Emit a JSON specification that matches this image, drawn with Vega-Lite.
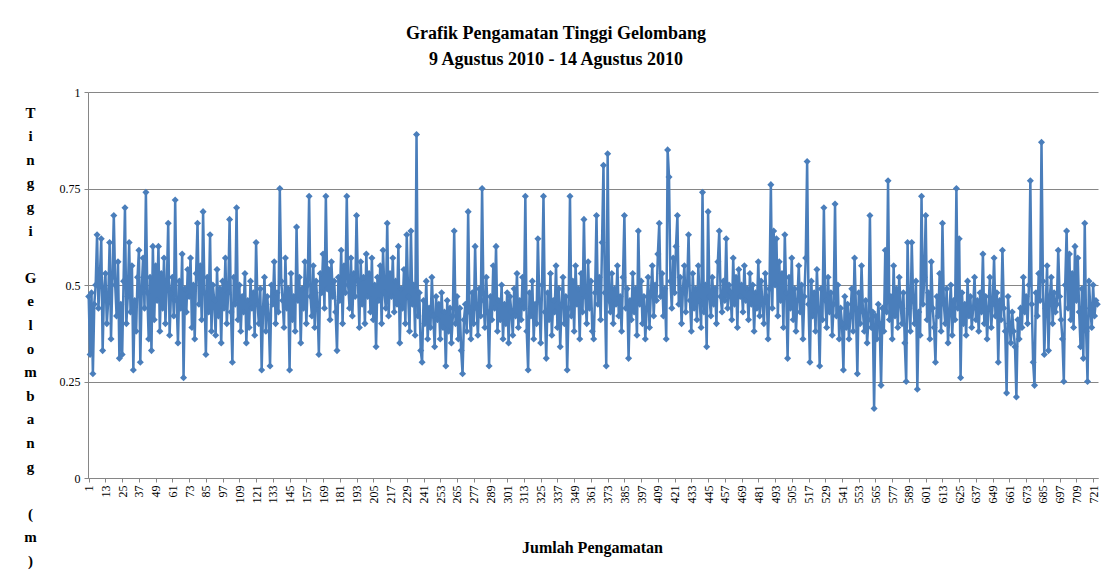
{
"$schema":"https://vega.github.io/schema/vega-lite/v6.json",
"autosize":"none",
"width":1010,"height":386,
"padding":{"left":88,"top":92,"right":5,"bottom":98},
"background":"white",
"title":{"text":["Grafik Pengamatan Tinggi Gelombang","9 Agustus 2010 - 14 Agustus 2010"],"font":"Liberation Serif","fontSize":18,"fontWeight":"bold","color":"#000000","anchor":"middle","dx":-37,"offset":17,"lineHeight":26},
"config":{"view":{"stroke":null},"axis":{"labelFont":"Liberation Serif","titleFont":"Liberation Serif","labelColor":"#000000","titleColor":"#000000"}},
"data":{"values":[
{"n":1,"h":0.47},{"n":2,"h":0.32},{"n":3,"h":0.48},{"n":4,"h":0.27},{"n":5,"h":0.45},{"n":6,"h":0.50},{"n":7,"h":0.63},{"n":8,"h":0.44},{"n":9,"h":0.52},{"n":10,"h":0.62},
{"n":11,"h":0.33},{"n":12,"h":0.49},{"n":13,"h":0.53},{"n":14,"h":0.40},{"n":15,"h":0.46},{"n":16,"h":0.61},{"n":17,"h":0.36},{"n":18,"h":0.52},{"n":19,"h":0.68},{"n":20,"h":0.50},
{"n":21,"h":0.42},{"n":22,"h":0.56},{"n":23,"h":0.31},{"n":24,"h":0.45},{"n":25,"h":0.32},{"n":26,"h":0.51},{"n":27,"h":0.70},{"n":28,"h":0.40},{"n":29,"h":0.47},{"n":30,"h":0.61},
{"n":31,"h":0.43},{"n":32,"h":0.55},{"n":33,"h":0.28},{"n":34,"h":0.46},{"n":35,"h":0.38},{"n":36,"h":0.52},{"n":37,"h":0.59},{"n":38,"h":0.30},{"n":39,"h":0.49},{"n":40,"h":0.57},
{"n":41,"h":0.44},{"n":42,"h":0.74},{"n":43,"h":0.48},{"n":44,"h":0.36},{"n":45,"h":0.52},{"n":46,"h":0.33},{"n":47,"h":0.60},{"n":48,"h":0.41},{"n":49,"h":0.55},{"n":50,"h":0.46},
{"n":51,"h":0.60},{"n":52,"h":0.38},{"n":53,"h":0.53},{"n":54,"h":0.44},{"n":55,"h":0.57},{"n":56,"h":0.40},{"n":57,"h":0.50},{"n":58,"h":0.66},{"n":59,"h":0.37},{"n":60,"h":0.48},
{"n":61,"h":0.52},{"n":62,"h":0.42},{"n":63,"h":0.72},{"n":64,"h":0.46},{"n":65,"h":0.35},{"n":66,"h":0.51},{"n":67,"h":0.44},{"n":68,"h":0.58},{"n":69,"h":0.26},{"n":70,"h":0.49},
{"n":71,"h":0.43},{"n":72,"h":0.54},{"n":73,"h":0.47},{"n":74,"h":0.57},{"n":75,"h":0.39},{"n":76,"h":0.50},{"n":77,"h":0.36},{"n":78,"h":0.53},{"n":79,"h":0.66},{"n":80,"h":0.45},
{"n":81,"h":0.55},{"n":82,"h":0.41},{"n":83,"h":0.69},{"n":84,"h":0.48},{"n":85,"h":0.32},{"n":86,"h":0.52},{"n":87,"h":0.43},{"n":88,"h":0.63},{"n":89,"h":0.38},{"n":90,"h":0.50},
{"n":91,"h":0.46},{"n":92,"h":0.37},{"n":93,"h":0.54},{"n":94,"h":0.42},{"n":95,"h":0.49},{"n":96,"h":0.35},{"n":97,"h":0.51},{"n":98,"h":0.44},{"n":99,"h":0.57},{"n":100,"h":0.40},
{"n":101,"h":0.48},{"n":102,"h":0.67},{"n":103,"h":0.43},{"n":104,"h":0.30},{"n":105,"h":0.52},{"n":106,"h":0.45},{"n":107,"h":0.70},{"n":108,"h":0.41},{"n":109,"h":0.50},{"n":110,"h":0.38},
{"n":111,"h":0.47},{"n":112,"h":0.43},{"n":113,"h":0.53},{"n":114,"h":0.35},{"n":115,"h":0.46},{"n":116,"h":0.39},{"n":117,"h":0.51},{"n":118,"h":0.44},{"n":119,"h":0.48},{"n":120,"h":0.37},
{"n":121,"h":0.61},{"n":122,"h":0.45},{"n":123,"h":0.40},{"n":124,"h":0.49},{"n":125,"h":0.28},{"n":126,"h":0.44},{"n":127,"h":0.52},{"n":128,"h":0.38},{"n":129,"h":0.47},{"n":130,"h":0.42},
{"n":131,"h":0.29},{"n":132,"h":0.50},{"n":133,"h":0.45},{"n":134,"h":0.56},{"n":135,"h":0.40},{"n":136,"h":0.48},{"n":137,"h":0.43},{"n":138,"h":0.75},{"n":139,"h":0.51},{"n":140,"h":0.46},
{"n":141,"h":0.39},{"n":142,"h":0.57},{"n":143,"h":0.44},{"n":144,"h":0.49},{"n":145,"h":0.28},{"n":146,"h":0.53},{"n":147,"h":0.41},{"n":148,"h":0.47},{"n":149,"h":0.38},{"n":150,"h":0.65},
{"n":151,"h":0.46},{"n":152,"h":0.52},{"n":153,"h":0.35},{"n":154,"h":0.49},{"n":155,"h":0.44},{"n":156,"h":0.56},{"n":157,"h":0.40},{"n":158,"h":0.50},{"n":159,"h":0.73},{"n":160,"h":0.47},
{"n":161,"h":0.42},{"n":162,"h":0.55},{"n":163,"h":0.39},{"n":164,"h":0.51},{"n":165,"h":0.45},{"n":166,"h":0.32},{"n":167,"h":0.53},{"n":168,"h":0.48},{"n":169,"h":0.58},{"n":170,"h":0.44},
{"n":171,"h":0.73},{"n":172,"h":0.49},{"n":173,"h":0.54},{"n":174,"h":0.41},{"n":175,"h":0.56},{"n":176,"h":0.47},{"n":177,"h":0.51},{"n":178,"h":0.43},{"n":179,"h":0.33},{"n":180,"h":0.52},
{"n":181,"h":0.46},{"n":182,"h":0.59},{"n":183,"h":0.40},{"n":184,"h":0.55},{"n":185,"h":0.48},{"n":186,"h":0.73},{"n":187,"h":0.50},{"n":188,"h":0.44},{"n":189,"h":0.57},{"n":190,"h":0.42},
{"n":191,"h":0.53},{"n":192,"h":0.47},{"n":193,"h":0.68},{"n":194,"h":0.51},{"n":195,"h":0.39},{"n":196,"h":0.56},{"n":197,"h":0.45},{"n":198,"h":0.52},{"n":199,"h":0.40},{"n":200,"h":0.58},
{"n":201,"h":0.47},{"n":202,"h":0.53},{"n":203,"h":0.43},{"n":204,"h":0.57},{"n":205,"h":0.41},{"n":206,"h":0.50},{"n":207,"h":0.34},{"n":208,"h":0.52},{"n":209,"h":0.46},{"n":210,"h":0.55},
{"n":211,"h":0.40},{"n":212,"h":0.59},{"n":213,"h":0.48},{"n":214,"h":0.44},{"n":215,"h":0.66},{"n":216,"h":0.42},{"n":217,"h":0.53},{"n":218,"h":0.47},{"n":219,"h":0.57},{"n":220,"h":0.43},
{"n":221,"h":0.51},{"n":222,"h":0.45},{"n":223,"h":0.60},{"n":224,"h":0.35},{"n":225,"h":0.49},{"n":226,"h":0.44},{"n":227,"h":0.54},{"n":228,"h":0.40},{"n":229,"h":0.63},{"n":230,"h":0.47},
{"n":231,"h":0.38},{"n":232,"h":0.64},{"n":233,"h":0.45},{"n":234,"h":0.50},{"n":235,"h":0.37},{"n":236,"h":0.89},{"n":237,"h":0.42},{"n":238,"h":0.48},{"n":239,"h":0.33},{"n":240,"h":0.30},
{"n":241,"h":0.46},{"n":242,"h":0.40},{"n":243,"h":0.51},{"n":244,"h":0.36},{"n":245,"h":0.44},{"n":246,"h":0.39},{"n":247,"h":0.52},{"n":248,"h":0.42},{"n":249,"h":0.34},{"n":250,"h":0.47},
{"n":251,"h":0.41},{"n":252,"h":0.45},{"n":253,"h":0.36},{"n":254,"h":0.48},{"n":255,"h":0.39},{"n":256,"h":0.43},{"n":257,"h":0.29},{"n":258,"h":0.46},{"n":259,"h":0.38},{"n":260,"h":0.44},
{"n":261,"h":0.35},{"n":262,"h":0.42},{"n":263,"h":0.64},{"n":264,"h":0.40},{"n":265,"h":0.47},{"n":266,"h":0.36},{"n":267,"h":0.44},{"n":268,"h":0.33},{"n":269,"h":0.27},{"n":270,"h":0.41},
{"n":271,"h":0.45},{"n":272,"h":0.38},{"n":273,"h":0.69},{"n":274,"h":0.43},{"n":275,"h":0.36},{"n":276,"h":0.48},{"n":277,"h":0.40},{"n":278,"h":0.60},{"n":279,"h":0.44},{"n":280,"h":0.37},
{"n":281,"h":0.49},{"n":282,"h":0.42},{"n":283,"h":0.75},{"n":284,"h":0.46},{"n":285,"h":0.39},{"n":286,"h":0.52},{"n":287,"h":0.43},{"n":288,"h":0.29},{"n":289,"h":0.47},{"n":290,"h":0.41},
{"n":291,"h":0.55},{"n":292,"h":0.44},{"n":293,"h":0.60},{"n":294,"h":0.38},{"n":295,"h":0.46},{"n":296,"h":0.41},{"n":297,"h":0.50},{"n":298,"h":0.36},{"n":299,"h":0.45},{"n":300,"h":0.40},
{"n":301,"h":0.48},{"n":302,"h":0.35},{"n":303,"h":0.47},{"n":304,"h":0.43},{"n":305,"h":0.37},{"n":306,"h":0.49},{"n":307,"h":0.42},{"n":308,"h":0.53},{"n":309,"h":0.39},{"n":310,"h":0.46},
{"n":311,"h":0.41},{"n":312,"h":0.52},{"n":313,"h":0.44},{"n":314,"h":0.73},{"n":315,"h":0.38},{"n":316,"h":0.28},{"n":317,"h":0.48},{"n":318,"h":0.42},{"n":319,"h":0.51},{"n":320,"h":0.36},
{"n":321,"h":0.45},{"n":322,"h":0.40},{"n":323,"h":0.62},{"n":324,"h":0.46},{"n":325,"h":0.35},{"n":326,"h":0.50},{"n":327,"h":0.73},{"n":328,"h":0.43},{"n":329,"h":0.31},{"n":330,"h":0.48},
{"n":331,"h":0.41},{"n":332,"h":0.53},{"n":333,"h":0.37},{"n":334,"h":0.46},{"n":335,"h":0.43},{"n":336,"h":0.55},{"n":337,"h":0.39},{"n":338,"h":0.49},{"n":339,"h":0.34},{"n":340,"h":0.45},
{"n":341,"h":0.52},{"n":342,"h":0.40},{"n":343,"h":0.47},{"n":344,"h":0.28},{"n":345,"h":0.44},{"n":346,"h":0.73},{"n":347,"h":0.42},{"n":348,"h":0.51},{"n":349,"h":0.38},{"n":350,"h":0.55},
{"n":351,"h":0.45},{"n":352,"h":0.49},{"n":353,"h":0.36},{"n":354,"h":0.53},{"n":355,"h":0.43},{"n":356,"h":0.67},{"n":357,"h":0.47},{"n":358,"h":0.40},{"n":359,"h":0.56},{"n":360,"h":0.44},
{"n":361,"h":0.51},{"n":362,"h":0.38},{"n":363,"h":0.36},{"n":364,"h":0.48},{"n":365,"h":0.68},{"n":366,"h":0.45},{"n":367,"h":0.52},{"n":368,"h":0.41},{"n":369,"h":0.61},{"n":370,"h":0.81},
{"n":371,"h":0.48},{"n":372,"h":0.29},{"n":373,"h":0.84},{"n":374,"h":0.46},{"n":375,"h":0.43},{"n":376,"h":0.53},{"n":377,"h":0.40},{"n":378,"h":0.49},{"n":379,"h":0.45},{"n":380,"h":0.55},
{"n":381,"h":0.42},{"n":382,"h":0.47},{"n":383,"h":0.38},{"n":384,"h":0.52},{"n":385,"h":0.68},{"n":386,"h":0.44},{"n":387,"h":0.49},{"n":388,"h":0.31},{"n":389,"h":0.46},{"n":390,"h":0.41},
{"n":391,"h":0.53},{"n":392,"h":0.43},{"n":393,"h":0.49},{"n":394,"h":0.37},{"n":395,"h":0.64},{"n":396,"h":0.45},{"n":397,"h":0.51},{"n":398,"h":0.40},{"n":399,"h":0.47},{"n":400,"h":0.36},
{"n":401,"h":0.44},{"n":402,"h":0.52},{"n":403,"h":0.39},{"n":404,"h":0.48},{"n":405,"h":0.55},{"n":406,"h":0.42},{"n":407,"h":0.50},{"n":408,"h":0.46},{"n":409,"h":0.58},{"n":410,"h":0.66},
{"n":411,"h":0.47},{"n":412,"h":0.53},{"n":413,"h":0.42},{"n":414,"h":0.49},{"n":415,"h":0.36},{"n":416,"h":0.85},{"n":417,"h":0.78},{"n":418,"h":0.51},{"n":419,"h":0.44},{"n":420,"h":0.57},
{"n":421,"h":0.48},{"n":422,"h":0.60},{"n":423,"h":0.68},{"n":424,"h":0.45},{"n":425,"h":0.52},{"n":426,"h":0.40},{"n":427,"h":0.49},{"n":428,"h":0.55},{"n":429,"h":0.43},{"n":430,"h":0.50},
{"n":431,"h":0.63},{"n":432,"h":0.46},{"n":433,"h":0.38},{"n":434,"h":0.53},{"n":435,"h":0.44},{"n":436,"h":0.49},{"n":437,"h":0.41},{"n":438,"h":0.55},{"n":439,"h":0.46},{"n":440,"h":0.39},
{"n":441,"h":0.74},{"n":442,"h":0.43},{"n":443,"h":0.50},{"n":444,"h":0.34},{"n":445,"h":0.69},{"n":446,"h":0.47},{"n":447,"h":0.42},{"n":448,"h":0.52},{"n":449,"h":0.45},{"n":450,"h":0.49},
{"n":451,"h":0.40},{"n":452,"h":0.56},{"n":453,"h":0.64},{"n":454,"h":0.47},{"n":455,"h":0.43},{"n":456,"h":0.51},{"n":457,"h":0.46},{"n":458,"h":0.62},{"n":459,"h":0.44},{"n":460,"h":0.50},
{"n":461,"h":0.48},{"n":462,"h":0.41},{"n":463,"h":0.57},{"n":464,"h":0.45},{"n":465,"h":0.52},{"n":466,"h":0.39},{"n":467,"h":0.54},{"n":468,"h":0.47},{"n":469,"h":0.50},{"n":470,"h":0.43},
{"n":471,"h":0.55},{"n":472,"h":0.46},{"n":473,"h":0.49},{"n":474,"h":0.41},{"n":475,"h":0.53},{"n":476,"h":0.45},{"n":477,"h":0.50},{"n":478,"h":0.38},{"n":479,"h":0.48},{"n":480,"h":0.44},
{"n":481,"h":0.56},{"n":482,"h":0.42},{"n":483,"h":0.51},{"n":484,"h":0.45},{"n":485,"h":0.40},{"n":486,"h":0.53},{"n":487,"h":0.47},{"n":488,"h":0.36},{"n":489,"h":0.49},{"n":490,"h":0.76},
{"n":491,"h":0.44},{"n":492,"h":0.64},{"n":493,"h":0.50},{"n":494,"h":0.62},{"n":495,"h":0.42},{"n":496,"h":0.56},{"n":497,"h":0.46},{"n":498,"h":0.53},{"n":499,"h":0.39},{"n":500,"h":0.63},
{"n":501,"h":0.48},{"n":502,"h":0.31},{"n":503,"h":0.52},{"n":504,"h":0.44},{"n":505,"h":0.57},{"n":506,"h":0.41},{"n":507,"h":0.49},{"n":508,"h":0.38},{"n":509,"h":0.46},{"n":510,"h":0.55},
{"n":511,"h":0.43},{"n":512,"h":0.50},{"n":513,"h":0.36},{"n":514,"h":0.47},{"n":515,"h":0.57},{"n":516,"h":0.82},{"n":517,"h":0.45},{"n":518,"h":0.30},{"n":519,"h":0.51},{"n":520,"h":0.42},
{"n":521,"h":0.48},{"n":522,"h":0.38},{"n":523,"h":0.54},{"n":524,"h":0.44},{"n":525,"h":0.29},{"n":526,"h":0.49},{"n":527,"h":0.41},{"n":528,"h":0.70},{"n":529,"h":0.46},{"n":530,"h":0.39},
{"n":531,"h":0.52},{"n":532,"h":0.43},{"n":533,"h":0.48},{"n":534,"h":0.37},{"n":535,"h":0.45},{"n":536,"h":0.71},{"n":537,"h":0.42},{"n":538,"h":0.50},{"n":539,"h":0.36},{"n":540,"h":0.44},
{"n":541,"h":0.40},{"n":542,"h":0.28},{"n":543,"h":0.47},{"n":544,"h":0.39},{"n":545,"h":0.45},{"n":546,"h":0.36},{"n":547,"h":0.42},{"n":548,"h":0.49},{"n":549,"h":0.38},{"n":550,"h":0.57},
{"n":551,"h":0.44},{"n":552,"h":0.27},{"n":553,"h":0.48},{"n":554,"h":0.40},{"n":555,"h":0.55},{"n":556,"h":0.43},{"n":557,"h":0.38},{"n":558,"h":0.46},{"n":559,"h":0.35},{"n":560,"h":0.41},
{"n":561,"h":0.68},{"n":562,"h":0.39},{"n":563,"h":0.43},{"n":564,"h":0.18},{"n":565,"h":0.42},{"n":566,"h":0.36},{"n":567,"h":0.45},{"n":568,"h":0.40},{"n":569,"h":0.24},{"n":570,"h":0.44},
{"n":571,"h":0.38},{"n":572,"h":0.59},{"n":573,"h":0.43},{"n":574,"h":0.77},{"n":575,"h":0.41},{"n":576,"h":0.47},{"n":577,"h":0.36},{"n":578,"h":0.55},{"n":579,"h":0.42},{"n":580,"h":0.49},
{"n":581,"h":0.39},{"n":582,"h":0.52},{"n":583,"h":0.45},{"n":584,"h":0.40},{"n":585,"h":0.48},{"n":586,"h":0.35},{"n":587,"h":0.25},{"n":588,"h":0.61},{"n":589,"h":0.44},{"n":590,"h":0.38},
{"n":591,"h":0.61},{"n":592,"h":0.46},{"n":593,"h":0.40},{"n":594,"h":0.51},{"n":595,"h":0.23},{"n":596,"h":0.43},{"n":597,"h":0.37},{"n":598,"h":0.73},{"n":599,"h":0.45},{"n":600,"h":0.52},
{"n":601,"h":0.68},{"n":602,"h":0.41},{"n":603,"h":0.48},{"n":604,"h":0.36},{"n":605,"h":0.56},{"n":606,"h":0.44},{"n":607,"h":0.39},{"n":608,"h":0.30},{"n":609,"h":0.47},{"n":610,"h":0.42},
{"n":611,"h":0.53},{"n":612,"h":0.38},{"n":613,"h":0.66},{"n":614,"h":0.45},{"n":615,"h":0.40},{"n":616,"h":0.49},{"n":617,"h":0.35},{"n":618,"h":0.43},{"n":619,"h":0.50},{"n":620,"h":0.37},
{"n":621,"h":0.46},{"n":622,"h":0.41},{"n":623,"h":0.75},{"n":624,"h":0.44},{"n":625,"h":0.62},{"n":626,"h":0.26},{"n":627,"h":0.48},{"n":628,"h":0.40},{"n":629,"h":0.45},{"n":630,"h":0.37},
{"n":631,"h":0.51},{"n":632,"h":0.42},{"n":633,"h":0.47},{"n":634,"h":0.39},{"n":635,"h":0.44},{"n":636,"h":0.52},{"n":637,"h":0.41},{"n":638,"h":0.46},{"n":639,"h":0.38},{"n":640,"h":0.48},
{"n":641,"h":0.43},{"n":642,"h":0.58},{"n":643,"h":0.40},{"n":644,"h":0.47},{"n":645,"h":0.36},{"n":646,"h":0.44},{"n":647,"h":0.52},{"n":648,"h":0.39},{"n":649,"h":0.45},{"n":650,"h":0.57},
{"n":651,"h":0.42},{"n":652,"h":0.48},{"n":653,"h":0.30},{"n":654,"h":0.46},{"n":655,"h":0.41},{"n":656,"h":0.59},{"n":657,"h":0.44},{"n":658,"h":0.38},{"n":659,"h":0.22},{"n":660,"h":0.47},
{"n":661,"h":0.40},{"n":662,"h":0.35},{"n":663,"h":0.43},{"n":664,"h":0.38},{"n":665,"h":0.34},{"n":666,"h":0.21},{"n":667,"h":0.41},{"n":668,"h":0.36},{"n":669,"h":0.44},{"n":670,"h":0.39},
{"n":671,"h":0.52},{"n":672,"h":0.43},{"n":673,"h":0.47},{"n":674,"h":0.40},{"n":675,"h":0.50},{"n":676,"h":0.77},{"n":677,"h":0.45},{"n":678,"h":0.30},{"n":679,"h":0.24},{"n":680,"h":0.48},
{"n":681,"h":0.42},{"n":682,"h":0.53},{"n":683,"h":0.46},{"n":684,"h":0.87},{"n":685,"h":0.51},{"n":686,"h":0.32},{"n":687,"h":0.44},{"n":688,"h":0.55},{"n":689,"h":0.33},{"n":690,"h":0.47},
{"n":691,"h":0.52},{"n":692,"h":0.40},{"n":693,"h":0.48},{"n":694,"h":0.43},{"n":695,"h":0.45},{"n":696,"h":0.59},{"n":697,"h":0.47},{"n":698,"h":0.41},{"n":699,"h":0.36},{"n":700,"h":0.25},
{"n":701,"h":0.50},{"n":702,"h":0.64},{"n":703,"h":0.44},{"n":704,"h":0.58},{"n":705,"h":0.41},{"n":706,"h":0.53},{"n":707,"h":0.39},{"n":708,"h":0.60},{"n":709,"h":0.46},{"n":710,"h":0.57},
{"n":711,"h":0.43},{"n":712,"h":0.34},{"n":713,"h":0.49},{"n":714,"h":0.31},{"n":715,"h":0.66},{"n":716,"h":0.38},{"n":717,"h":0.25},{"n":718,"h":0.51},{"n":719,"h":0.44},{"n":720,"h":0.39},
{"n":721,"h":0.50},{"n":722,"h":0.42},{"n":723,"h":0.46},{"n":724,"h":0.45}
]},
"mark":{"type":"line","color":"#4A7EBB","strokeWidth":2.5,"point":{"shape":"diamond","size":50,"filled":true,"color":"#4A7EBB","opacity":1}},
"encoding":{
"x":{"field":"n","type":"quantitative","scale":{"domain":[0.5,724.5],"nice":false,"zero":false},
"axis":{"values":[1,13,25,37,49,61,73,85,97,109,121,133,145,157,169,181,193,205,217,229,241,253,265,277,289,301,313,325,337,349,361,373,385,397,409,421,433,445,457,469,481,493,505,517,529,541,553,565,577,589,601,613,625,637,649,661,673,685,697,709,721],
"labelAngle":-90,"labelFontSize":12,"labelOverlap":false,"labelFlush":false,"grid":false,"domainColor":"#868686","tickColor":"#868686","tickSize":4,"labelPadding":3,
"title":"Jumlah Pengamatan","titleFontSize":16,"titleFontWeight":"bold","titlePadding":36,"titleX":504}},
"y":{"field":"h","type":"quantitative","scale":{"domain":[0,1],"nice":false},
"axis":{"values":[0,0.25,0.5,0.75,1],"format":".2~f","labelFontSize":12,"grid":true,"gridColor":"#868686","gridWidth":1,"domainColor":"#868686","tickColor":"#868686","tickSize":4,"labelPadding":4,
"title":["T","i","n","g","g","i","\u200b","G","e","l","o","m","b","a","n","g","\u200b","(","m",")"],"titleAngle":0,"titleFontSize":15,"titleFontWeight":"bold","titleLineHeight":23.6,"titleAlign":"center","titleBaseline":"top","titleX":-58,"titleY":13}}
}
}
